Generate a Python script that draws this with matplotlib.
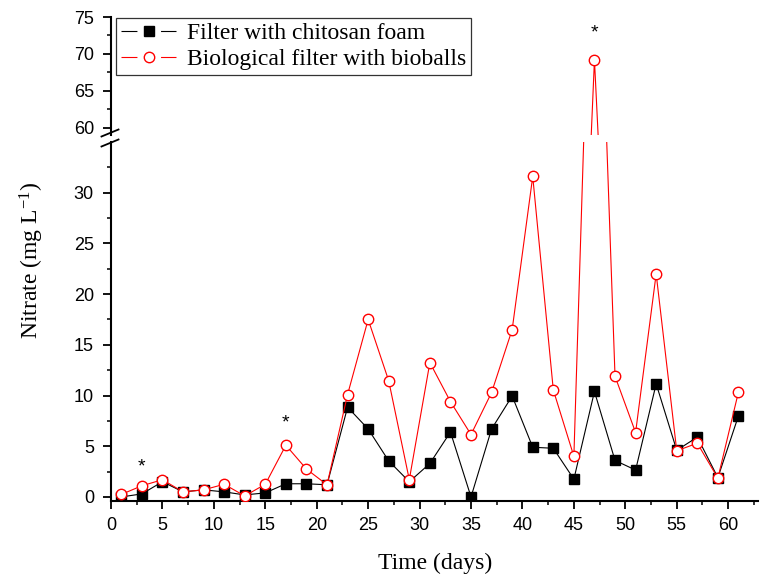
import matplotlib
matplotlib.use("Agg")
import matplotlib.pyplot as plt
from matplotlib.lines import Line2D

plt.rcParams['mathtext.default'] = 'regular'

days = [1, 3, 5, 7, 9, 11, 13, 15, 17, 19, 21, 23, 25, 27, 29, 31,
        33, 35, 37, 39, 41, 43, 45, 47, 49, 51, 53, 55, 57, 59, 61]
chitosan = [0.0, 0.3, 1.5, 0.5, 0.7, 0.5, 0.2, 0.4, 1.3, 1.3, 1.2, 8.85,
            6.7, 3.55, 1.5, 3.3, 6.4, 0.0, 6.7, 9.95, 4.9, 4.8, 1.75, 10.4,
            3.6, 2.65, 11.15, 4.6, 5.9, 1.9, 8.0]
bioballs = [0.25, 1.1, 1.7, 0.5, 0.7, 1.25, 0.1, 1.25, 5.1, 2.75, 1.2, 10.1,
            17.5, 11.45, 1.7, 13.25, 9.4, 6.15, 10.3, 16.5, 31.6, 10.55, 4.0,
            69.2, 11.9, 6.35, 22.0, 4.55, 5.3, 1.85, 10.35]
star_days = [3, 17, 47]
star_vals = [3.0, 7.3, 72.9]
labels = ['Filter with chitosan foam', 'Biological filter with bioballs']

W, H = 761, 577
fig = plt.figure(figsize=(W / 100, H / 100), dpi=100)

left_px, right_px = 111, 758
low_top, low_bot = 142, 501
up_top, up_bot = 17, 135

def rect(top, bot):
    return [left_px / W, 1 - bot / H, (right_px - left_px) / W, (bot - top) / H]

ax_lo = fig.add_axes(rect(low_top, low_bot))
ax_up = fig.add_axes(rect(up_top, up_bot), sharex=ax_lo)

tickfont = 'Liberation Sans'
serif = 'Liberation Serif'
LW = 0.8

for ax in (ax_lo, ax_up):
    ax.plot(days, chitosan, color='black', lw=LW, marker='s', ms=6.8,
            mfc='black', mec='black', zorder=3)
    ax.plot(days, bioballs, color='red', lw=LW, marker='o', ms=7.5,
            mfc='white', mec='red', mew=1.0, zorder=4)
    ax.spines['top'].set_visible(False)
    ax.spines['right'].set_visible(False)
    ax.spines['left'].set_linewidth(1.5)
    ax.spines['bottom'].set_linewidth(1.5)
    ax.tick_params(which='major', direction='out', length=5.8, width=1.3,
                   labelsize=13)
    ax.tick_params(which='minor', direction='out', length=3.2, width=1.1)
    ax.tick_params(axis='y', which='major', pad=6.5)
    ax.tick_params(axis='x', which='major', pad=5.5)

ax_lo.set_xlim(0, 62.9)
ax_lo.set_ylim(-0.4, 35)
ax_up.set_ylim(59, 75)

ax_lo.set_xticks(range(0, 61, 5))
ax_lo.set_xticks([2.5 + 5 * i for i in range(13)], minor=True)
ax_lo.set_yticks([0, 5, 10, 15, 20, 25, 30])
ax_lo.set_yticks([2.5, 7.5, 12.5, 17.5, 22.5, 27.5, 32.5], minor=True)
ax_up.set_yticks([60, 65, 70, 75])
ax_up.set_yticks([62.5, 67.5, 72.5], minor=True)

ax_up.spines['bottom'].set_visible(False)
ax_up.tick_params(axis='x', which='both', bottom=False, labelbottom=False)

for lab in ax_lo.get_xticklabels() + ax_lo.get_yticklabels() + ax_up.get_yticklabels():
    lab.set_fontfamily(tickfont)
    lab.set_fontsize(13)

# asterisks
ax_lo.text(star_days[0], star_vals[0], '*', ha='center', va='center',
           fontsize=14, fontfamily=tickfont)
ax_lo.text(star_days[1], star_vals[1], '*', ha='center', va='center',
           fontsize=14, fontfamily=tickfont)
ax_up.text(star_days[2], star_vals[2], '*', ha='center', va='center',
           fontsize=14, fontfamily=tickfont)

# break marks
for yc in (133, 143):
    x0, x1 = 101.5, 118.5
    fig.add_artist(Line2D([x0 / W, x1 / W],
                          [1 - (yc + 3.5) / H, 1 - (yc - 3.5) / H],
                          color='black', lw=1.3))

# legend handles with gaps around the marker (Origin style)
FS = 17
HL = 2.35
hl_pt = HL * FS
gap = 17.0
seg = (hl_pt - gap) / 2
dash = (0, (seg / LW, gap / LW))
h1 = Line2D([], [], color='black', lw=LW, ls=dash, marker='s', ms=6.8,
            mfc='black', mec='black')
h2 = Line2D([], [], color='red', lw=LW, ls=dash, marker='o', ms=7.5,
            mfc='white', mec='red', mew=1.0)
leg = ax_up.legend([h1, h2], labels, loc='upper left',
                   bbox_to_anchor=(-0.003, 1.055),
                   prop={'family': serif, 'size': FS}, frameon=True,
                   fancybox=False, edgecolor='black', handlelength=HL,
                   borderpad=0.2, labelspacing=0.2, handletextpad=0.45,
                   borderaxespad=0.3)
leg.get_frame().set_linewidth(0.9)

fig.text(435 / W, 1 - 563 / H, 'Time (days)', ha='center', va='center',
         fontsize=17, fontfamily=serif)
fig.text(32 / W, 1 - 260 / H, 'Nitrate (mg L$^{-1}$)', ha='center', va='center',
         rotation=90, fontsize=17, fontfamily=serif)

fig.savefig('out.png', dpi=100)
